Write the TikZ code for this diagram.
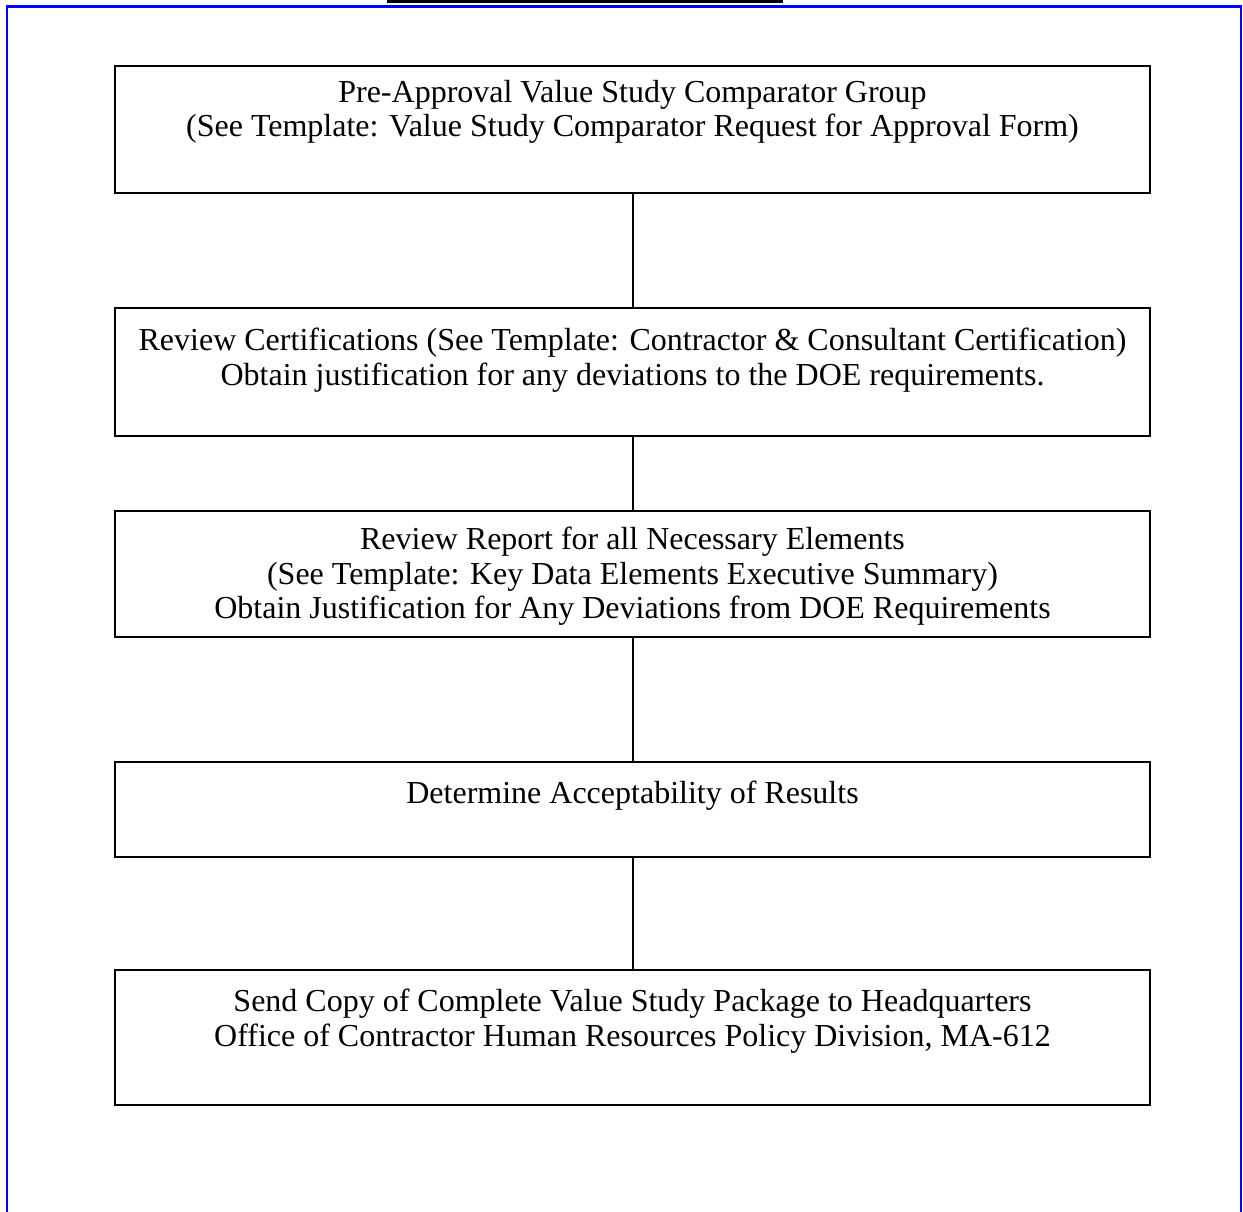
\documentclass[tikz,border=0pt]{standalone}
\usepackage{fontspec}
\setmainfont{Liberation Serif}
\begin{document}
\begin{tikzpicture}[x=1pt,y=-1pt,
  stepbox/.style={draw=black, line width=2pt, minimum width=1035pt, inner sep=0pt},
  lbl/.style={anchor=north, align=center, font=\fontsize{32}{34.5}\selectfont, inner sep=0pt},
  link/.style={draw=black, line width=2pt}]
\useasboundingbox (0,0) rectangle (1243,1212);
\fill[black] (387,0) rectangle (783,3);
\draw[blue, line width=2.2pt] (7,1215) -- (7,6.5) -- (1241,6.5) -- (1241,1215);
\node[stepbox, minimum height=127pt] (b1) at (632.5,129.5) {};
\node[stepbox, minimum height=128pt] (b2) at (632.5,372) {};
\node[stepbox, minimum height=126pt] (b3) at (632.5,574) {};
\node[stepbox, minimum height=95pt] (b4) at (632.5,809.5) {};
\node[stepbox, minimum height=135pt] (b5) at (632.5,1037.5) {};
\node[lbl] (t1) at ([yshift=-15pt]b1.north) {Pre-Approval Value Study Comparator Group\\(See Template: Value Study Comparator Request for Approval Form)};
\node[lbl] (t2) at ([yshift=-21pt]b2.north) {Review Certifications (See Template: Contractor \& Consultant Certification)\\Obtain justification for any deviations to the DOE requirements.};
\node[lbl] (t3) at ([yshift=-17pt]b3.north) {Review Report for all Necessary Elements\\(See Template: Key Data Elements Executive Summary)\\Obtain Justification for Any Deviations from DOE Requirements};
\node[lbl] (t4) at ([yshift=-20pt]b4.north) {Determine Acceptability of Results};
\node[lbl] (t5) at ([yshift=-20pt]b5.north) {Send Copy of Complete Value Study Package to Headquarters\\Office of Contractor Human Resources Policy Division, MA-612};
\draw[link] (b1.south) -- (b2.north);
\draw[link] (b2.south) -- (b3.north);
\draw[link] (b3.south) -- (b4.north);
\draw[link] (b4.south) -- (b5.north);
\end{tikzpicture}
\end{document}
